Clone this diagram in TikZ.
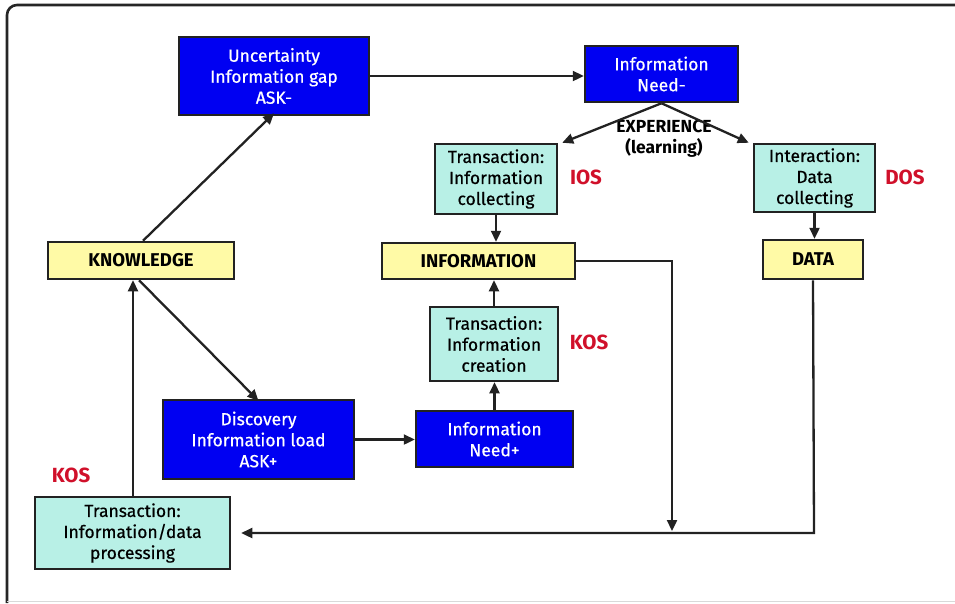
\documentclass[tikz,border=0pt]{standalone}
\usepackage{fontspec}
\setmainfont{Fira Sans}
\newfontfamily\boxfont[FakeBold=0.6]{Fira Sans}
\usetikzlibrary{arrows.meta,calc}
\definecolor{bluebox}{HTML}{0000F2}
\definecolor{cyanbox}{HTML}{B8F0E6}
\definecolor{yellowbox}{HTML}{FFFAA6}
\definecolor{redlab}{HTML}{D0102A}
\definecolor{edge}{HTML}{222222}
\tikzset{
  box/.style={draw=edge,line width=2.5pt,align=center,inner sep=0pt,
    font=\fontsize{17.5}{21}\selectfont\boxfont},
  bluenode/.style={box,fill=bluebox,text=white},
  cyannode/.style={box,fill=cyanbox,text=black},
  yellownode/.style={box,fill=yellowbox,text=black,font=\fontsize{18.5}{21}\selectfont\bfseries},
  redlabel/.style={text=redlab,font=\fontsize{20.5}{22}\selectfont\bfseries},
  conn/.style={draw=edge,line width=2.3pt,-{Triangle[length=11pt,width=10pt]}},
}
\begin{document}
\begin{tikzpicture}[x=1pt,y=-1pt]
\useasboundingbox (0,0) rectangle (955,603);
% frame
\draw[line width=2.6pt,draw=black!85,rounded corners=10] (7,603) -- (7,5) -- (962,5);
\draw[line width=1pt,draw=black!15] (7,601) -- (958,601);
% nodes
\node[bluenode,minimum width=190,minimum height=78] (unc) at (274,76) {Uncertainty\\Information gap\\ASK-};
\node[bluenode,minimum width=153,minimum height=56] (needm) at (661.5,74) {Information\\Need-};
\node[cyannode,minimum width=122,minimum height=70] (coll) at (496,179) {Transaction:\\Information\\collecting};
\node[cyannode,minimum width=121,minimum height=68] (inter) at (814.5,178) {Interaction:\\Data\\collecting};
\node[yellownode,minimum width=186,minimum height=37] (know) at (141,260.5) {KNOWLEDGE};
\node[yellownode,minimum width=193,minimum height=36] (info) at (478.5,261) {INFORMATION};
\node[yellownode,minimum width=100,minimum height=39] (data) at (813,259.5) {DATA};
\node[cyannode,minimum width=128,minimum height=74] (creat) at (494,344) {Transaction:\\Information\\creation};
\node[bluenode,minimum width=157,minimum height=56] (needp) at (494.5,439) {Information\\Need+};
\node[bluenode,minimum width=191,minimum height=79] (disc) at (258.5,439.5) {Discovery\\Information load\\ASK+};
\node[cyannode,minimum width=195,minimum height=72] (proc) at (132.5,533) {Transaction:\\Information/data\\processing};
% labels
\node[align=center,font=\fontsize{17.5}{21}\selectfont\bfseries,inner sep=0pt] (exp) at (664,139) {EXPERIENCE\\(learning)};
\node[redlabel] (ios) at (586,177) {IOS};
\node[redlabel] (dos) at (905,177) {DOS};
\node[redlabel] (kos1) at (589,342) {KOS};
\node[redlabel] (kos2) at (71,475) {KOS};
% connectors
\coordinate (infocorner) at (672,260);
\coordinate (join) at (672,531);
\coordinate (datacorner) at (814,533);
\draw[conn] (unc.east) -- (unc.east -| needm.west);
\draw[conn] (needm.south) -- ([xshift=4]coll.north east);
\draw[conn] (needm.south) -- ([xshift=-4]inter.north west);
\draw[conn] (coll.south) -- (coll.south |- info.north);
\draw[conn] (inter.south) -- (inter.south |- data.north);
\draw[conn] (info.east) -- (info.east -| infocorner) -- (join);
\draw[conn] (data.south) -- (datacorner) -- ([xshift=10]proc.east);
\draw[conn] (creat.north) -- (creat.north |- info.south);
\draw[conn] (needp.north) -- (needp.north |- creat.south);
\draw[conn] (disc.east) -- (disc.east -| needp.west);
\draw[conn] ([xshift=-2]know.south) -- ([yshift=-2]disc.north);
\draw[conn] ([xshift=2]know.north) -- ([yshift=3]unc.south);
\draw[conn] ([xshift=0.5]proc.north) -- ([xshift=0.5]proc.north |- know.south);
\end{tikzpicture}
\end{document}
